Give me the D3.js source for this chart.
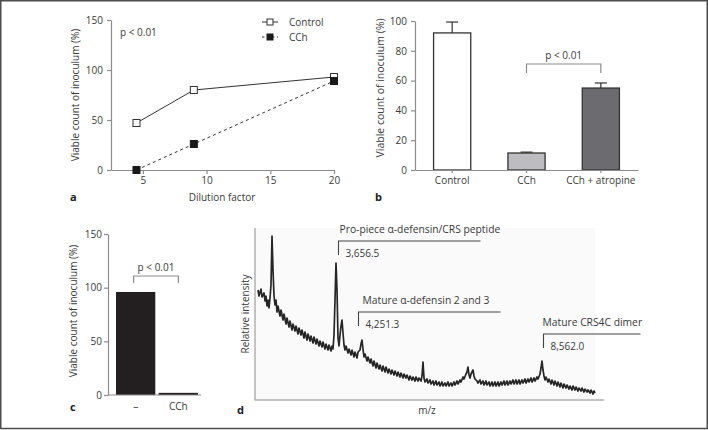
<!DOCTYPE html>
<html><head><meta charset="utf-8">
<script src="https://cdn.jsdelivr.net/npm/d3@7"></script>
<style>
body{margin:0;background:#fff}
svg{display:block}
text{font-family:"Open Sans",sans-serif}
</style>
</head><body><svg id="chart" width="708" height="430"></svg>
<script>
// ---------- Panel a ----------
const dilutionFactors = [4.5, 9, 20];
const controlViable = [47, 80, 93];
const cchViable = [0, 26, 89];
const aTicksX = [5, 10, 15, 20];
const aTicksY = [0, 50, 100, 150];
const aSeriesNames = ["Control", "CCh"];
// ---------- Panel b ----------
const bCategories = ["Control", "CCh", "CCh + atropine"];
const bValues = [92, 11.4, 55];
const bErrors = [7.3, 0.6, 3.4];
const bTicksY = [0, 20, 40, 60, 80, 100];
// ---------- Panel c ----------
const cCategories = ["–", "CCh"];
const cValues = [96, 2];
const cTicksY = [0, 50, 100, 150];
// ---------- Panel d ----------
const peakNames = ["Pro-piece α-defensin/CRS peptide", "Mature α-defensin 2 and 3", "Mature CRS4C dimer"];
const peakMz = [3656.5, 4251.3, 8562.0];
const peakMzLabels = ["3,656.5", "4,251.3", "8,562.0"];
const spectrum = [
[1732,110],[1756,104],[1804,111],[1828,103],[1876,107],[1900,99],[1924,104],[1948,94],[1972,100],[1996,92],
[2020,102],[2044,115],[2068,164],[2092,130],[2116,104],[2140,95],[2164,100],[2188,88],[2212,94],[2260,84],
[2284,90],[2332,80],[2356,86],[2404,76],[2428,82],[2476,73],[2500,79],[2548,70],[2572,76],[2620,69],
[2644,74],[2692,66],[2716,72],[2764,65],[2788,70],[2836,62],[2860,68],[2908,60],[2932,66],[2980,59],
[3004,64],[3052,57],[3076,63],[3124,56],[3148,61],[3196,54],[3220,59],[3268,53],[3292,58],[3340,51],
[3364,56],[3412,50],[3436,55],[3484,49],[3508,54],[3532,51],[3556,65],[3580,100],[3604,137],[3628,110],
[3652,62],[3676,54],[3700,65],[3724,74],[3748,80],[3772,67],[3796,55],[3820,50],[3844,54],[3892,47],
[3916,51],[3964,45],[3988,50],[4036,43],[4060,48],[4108,42],[4132,48],[4180,50],[4204,56],[4228,60],
[4252,51],[4276,43],[4300,46],[4348,39],[4372,43],[4420,37],[4444,41],[4492,34],[4516,39],[4564,32],
[4588,37],[4636,31],[4660,35],[4708,29],[4732,34],[4780,28],[4804,33],[4852,27],[4876,31],[4924,26],
[4948,30],[4996,25],[5020,29],[5068,24],[5092,28],[5140,23],[5164,27],[5212,22],[5236,26],[5284,22],
[5308,25],[5356,20],[5380,24],[5428,20],[5452,23],[5500,19],[5524,23],[5572,19],[5596,22],[5644,19],
[5668,24],[5692,38],[5716,22],[5740,18],[5788,21],[5812,17],[5860,20],[5884,16],[5932,19],[5956,15],
[6004,19],[6028,15],[6076,18],[6100,14],[6148,18],[6172,14],[6220,17],[6244,14],[6292,18],[6316,14],
[6364,17],[6388,14],[6436,18],[6460,15],[6508,19],[6532,16],[6580,20],[6604,18],[6652,23],[6676,21],
[6724,26],[6748,28],[6772,33],[6796,25],[6820,22],[6844,26],[6868,28],[6892,30],[6916,24],[6940,21],
[6988,19],[7012,17],[7060,20],[7084,16],[7132,19],[7156,15],[7204,19],[7228,15],[7276,18],[7300,14],
[7348,18],[7372,14],[7420,18],[7444,14],[7492,18],[7516,14],[7564,18],[7588,15],[7636,19],[7660,15],
[7708,19],[7732,15],[7780,19],[7804,16],[7852,20],[7876,16],[7924,20],[7948,16],[7996,20],[8020,16],
[8068,20],[8092,17],[8140,21],[8164,17],[8212,21],[8236,18],[8284,22],[8308,18],[8356,22],[8380,19],
[8428,23],[8452,21],[8500,26],[8524,32],[8548,39],[8572,30],[8596,24],[8620,20],[8644,23],[8692,18],
[8716,21],[8764,16],[8788,20],[8836,15],[8860,19],[8908,14],[8932,18],[8980,13],[9004,17],[9052,12],
[9076,16],[9124,12],[9148,15],[9196,11],[9220,14],[9268,10],[9292,14],[9340,10],[9364,13],[9412,9],
[9436,12],[9484,9],[9508,12],[9556,8],[9580,11],[9628,8],[9652,10],[9700,7],[9724,10],[9772,6],
[9796,9],[9820,7]
];

// ---------- drawing ----------
const svg = d3.select("#chart");
const TXT = "#3a3a3a", AX = "#8c8c8c", FONT = '"Open Sans", sans-serif';
svg.append("rect").attr("x",0).attr("y",0).attr("width",708).attr("height",430).attr("fill","#fff");
svg.append("rect").attr("x",0.75).attr("y",0.75).attr("width",706.5).attr("height",427.75)
  .attr("fill","none").attr("stroke","#4d4d4d").attr("stroke-width",1.5);

function styleAxis(g, size){
  g.attr("font-family", FONT);
  g.select(".domain").attr("stroke", AX).attr("stroke-width",1.2);
  g.selectAll(".tick line").attr("stroke", AX).attr("stroke-width",1.2);
  g.selectAll(".tick text").attr("fill", TXT).attr("font-size", size || 10);
}
function ylabel(text, x, y, size){
  svg.append("text").attr("transform",`translate(${x},${y}) rotate(-90)`)
    .attr("text-anchor","middle").attr("dominant-baseline","central")
    .attr("font-size",size||10).attr("fill",TXT).text(text);
}
function plabel(t, x, y){
  svg.append("text").attr("x",x).attr("y",y).attr("font-size",11).attr("font-weight","bold")
    .attr("fill","#222").text(t);
}

// ===== Panel a =====
{
  const x = d3.scaleLinear().domain([2.5, 20]).range([111, 334]);
  const y = d3.scaleLinear().domain([0, 150]).range([170, 20]);
  const gx = svg.append("g").attr("transform","translate(0,170)")
    .call(d3.axisBottom(x).tickValues(aTicksX).tickSize(4).tickSizeOuter(0).tickPadding(3));
  styleAxis(gx);
  const gy = svg.append("g").attr("transform","translate(111,0)")
    .call(d3.axisLeft(y).tickValues(aTicksY).tickSize(4).tickSizeOuter(0).tickPadding(4));
  styleAxis(gy);
  const line = d3.line().x((d,i)=>x(dilutionFactors[i])).y(d=>y(d));
  svg.append("path").attr("d", line(controlViable)).attr("fill","none").attr("stroke","#333").attr("stroke-width",1);
  svg.append("path").attr("d", line(cchViable)).attr("fill","none").attr("stroke","#333").attr("stroke-width",1)
    .attr("stroke-dasharray","3,3");
  const s = 7;
  svg.selectAll(".ctl").data(controlViable).enter().append("rect")
    .attr("x",(d,i)=>x(dilutionFactors[i])-s/2).attr("y",d=>y(d)-s/2).attr("width",s).attr("height",s)
    .attr("fill","#fff").attr("stroke","#333").attr("stroke-width",1);
  svg.selectAll(".cch").data(cchViable).enter().append("rect")
    .attr("x",(d,i)=>x(dilutionFactors[i])-s/2).attr("y",d=>y(d)-s/2).attr("width",s).attr("height",s)
    .attr("fill","#1a1a1a").attr("stroke","#1a1a1a").attr("stroke-width",1);
  // legend
  const ly = [22, 37];
  aSeriesNames.forEach((n,i)=>{
    const l = svg.append("line").attr("x1",262).attr("x2",278).attr("y1",ly[i]).attr("y2",ly[i])
      .attr("stroke","#333").attr("stroke-width",1);
    if(i===1) l.attr("stroke-dasharray","2.5,2.5");
    svg.append("rect").attr("x",267).attr("y",ly[i]-3).attr("width",6).attr("height",6)
      .attr("fill", i===0?"#fff":"#1a1a1a").attr("stroke", i===0?"#333":"#1a1a1a");
    svg.append("text").attr("x",289).attr("y",ly[i]).attr("dominant-baseline","central")
      .attr("font-size",10).attr("fill",TXT).text(n);
  });
  svg.append("text").attr("x",120).attr("y",32).attr("dominant-baseline","central")
    .attr("font-size",10).attr("fill",TXT).text("p < 0.01");
  ylabel("Viable count of inoculum (%)", 75, 95);
  svg.append("text").attr("x",222).attr("y",197).attr("text-anchor","middle").attr("dominant-baseline","central")
    .attr("font-size",10).attr("fill",TXT).text("Dilution factor");
  plabel("a", 70, 201);
}

// ===== Panel b =====
{
  const x = d3.scaleBand().domain(bCategories).range([415, 638]).paddingInner(0.5).paddingOuter(0.25);
  const y = d3.scaleLinear().domain([0, 100]).range([170, 21]);
  const fills = ["#ffffff", "#bdbdc1", "#6c6c70"];
  svg.selectAll(".bbar").data(bValues).enter().append("rect")
    .attr("x",(d,i)=>x(bCategories[i])).attr("y",d=>y(d)).attr("width",x.bandwidth()).attr("height",d=>170-y(d))
    .attr("fill",(d,i)=>fills[i]).attr("stroke","#333").attr("stroke-width",1.3);
  bValues.forEach((v,i)=>{
    const cx = x(bCategories[i]) + x.bandwidth()/2;
    svg.append("line").attr("x1",cx).attr("x2",cx).attr("y1",y(v)).attr("y2",y(v+bErrors[i])).attr("stroke","#333").attr("stroke-width",1.2);
    svg.append("line").attr("x1",cx-6).attr("x2",cx+6).attr("y1",y(v+bErrors[i])).attr("y2",y(v+bErrors[i])).attr("stroke","#333").attr("stroke-width",1.2);
  });
  const gx = svg.append("g").attr("transform","translate(0,170)")
    .call(d3.axisBottom(x).tickSize(3).tickSizeOuter(0).tickPadding(4));
  styleAxis(gx);
  const gy = svg.append("g").attr("transform","translate(415,0)")
    .call(d3.axisLeft(y).tickValues(bTicksY).tickSize(4).tickSizeOuter(0).tickPadding(4));
  styleAxis(gy);
  const x1 = x(bCategories[1]) + x.bandwidth()/2, x2 = x(bCategories[2]) + x.bandwidth()/2;
  svg.append("path").attr("d",`M${x1},73V64H${x2}V73`).attr("fill","none").attr("stroke",AX).attr("stroke-width",1.2);
  svg.append("text").attr("x",(x1+x2)/2).attr("y",55).attr("text-anchor","middle").attr("dominant-baseline","central")
    .attr("font-size",10).attr("fill",TXT).text("p < 0.01");
  ylabel("Viable count of inoculum (%)", 380, 88, 10.5);
  plabel("b", 375, 201);
}

// ===== Panel c =====
{
  const x = d3.scaleBand().domain(cCategories).range([116, 198]).paddingInner(0.08).paddingOuter(0);
  const y = d3.scaleLinear().domain([0, 150]).range([395, 234]);
  svg.selectAll(".cbar").data(cValues).enter().append("rect")
    .attr("x",(d,i)=>x(cCategories[i])).attr("y",d=>y(d)).attr("width",x.bandwidth()).attr("height",d=>395-y(d))
    .attr("fill","#231f20");
  svg.append("line").attr("x1",108).attr("x2",201).attr("y1",395).attr("y2",395).attr("stroke",AX).attr("stroke-width",1.2);
  const gx = svg.append("g").attr("transform","translate(0,395)")
    .call(d3.axisBottom(x).tickSize(0).tickSizeOuter(0).tickPadding(8));
  styleAxis(gx);
  gx.select(".domain").remove();
  const gy = svg.append("g").attr("transform","translate(108,0)")
    .call(d3.axisLeft(y).tickValues(cTicksY).tickSize(4).tickSizeOuter(0).tickPadding(2));
  styleAxis(gy);
  const x1 = x(cCategories[0]) + x.bandwidth()/2 - 2, x2 = x(cCategories[1]) + x.bandwidth()/2;
  svg.append("path").attr("d",`M${x1},283V276H${x2}V283`).attr("fill","none").attr("stroke",AX).attr("stroke-width",1.2);
  svg.append("text").attr("x",(x1+x2)/2).attr("y",267).attr("text-anchor","middle").attr("dominant-baseline","central")
    .attr("font-size",10).attr("fill",TXT).text("p < 0.01");
  ylabel("Viable count of inoculum (%)", 73, 311);
  plabel("c", 70, 411);
}

// ===== Panel d =====
{
  const x = d3.scaleLinear().domain([1660, 10036]).range([255, 604]);
  const y = d3.scaleLinear().domain([0, 172]).range([400, 228]);
  svg.append("rect").attr("x",255).attr("y",228).attr("width",340).attr("height",172).attr("fill","#fafafa");
  const line = d3.line().x(d=>x(d[0])).y(d=>y(d[1]));
  svg.append("path").attr("d", line(spectrum)).attr("fill","none").attr("stroke","#262626")
    .attr("stroke-width",1.7).attr("stroke-linejoin","round");
  svg.append("line").attr("x1",255).attr("x2",255).attr("y1",228).attr("y2",400.5).attr("stroke","#b0b0b0").attr("stroke-width",1.5);
  svg.append("line").attr("x1",255).attr("x2",604).attr("y1",400).attr("y2",400).attr("stroke","#b0b0b0").attr("stroke-width",1.5);
  const layout = [
    {dx:0, lineY:241, len:142, textDx:1},
    {dx:-5, lineY:312, len:142, textDx:4},
    {dx:0, lineY:334, len:97, textDx:-1}
  ];
  peakMz.forEach((m,i)=>{
    const L = layout[i];
    const px = Math.round(x(m)) + L.dx + 0.5;
    svg.append("path").attr("d",`M${px},${L.lineY+14}V${L.lineY}H${px+L.len}`)
      .attr("fill","none").attr("stroke","#444").attr("stroke-width",1.1);
    svg.append("text").attr("x",px+L.textDx).attr("y",L.lineY-12).attr("dominant-baseline","central")
      .attr("font-size",10.3).attr("fill",TXT).text(peakNames[i]);
    svg.append("text").attr("x",px+7).attr("y",L.lineY+12).attr("dominant-baseline","central")
      .attr("font-size",10).attr("fill",TXT).text(peakMzLabels[i]);
  });
  ylabel("Relative intensity", 245, 314);
  svg.append("text").attr("x",427).attr("y",410).attr("text-anchor","middle").attr("dominant-baseline","central")
    .attr("font-size",10).attr("fill",TXT).text("m/z");
  plabel("d", 237, 414);
}
</script>
</body></html>
